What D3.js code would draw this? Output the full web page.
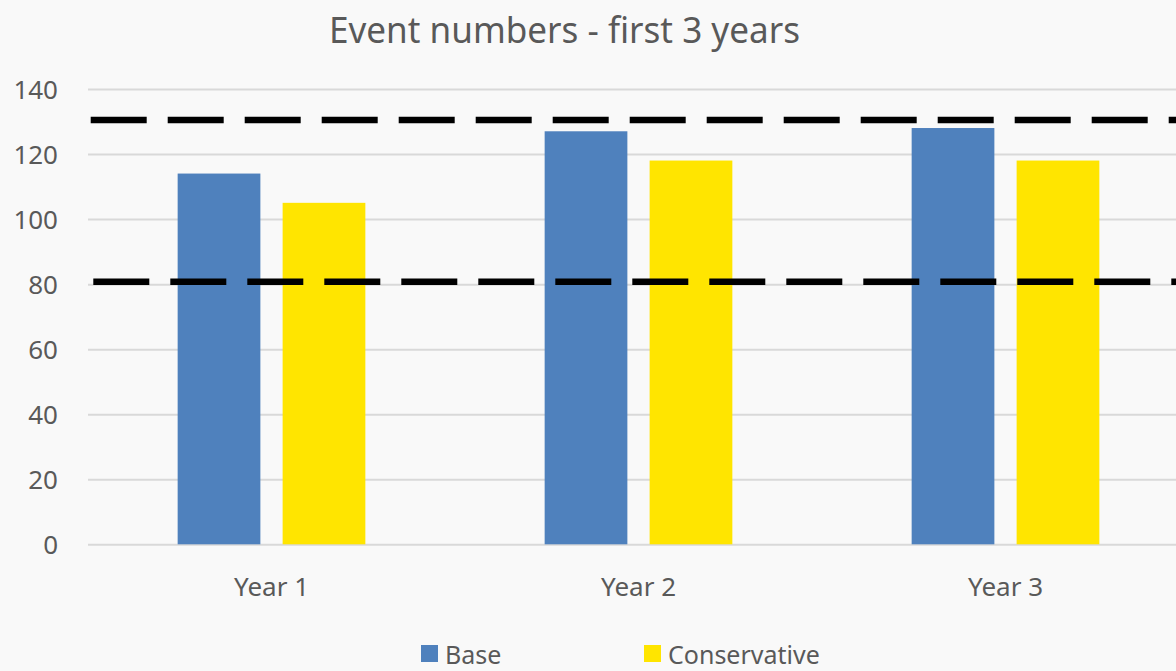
<!DOCTYPE html>
<html>
<head>
<meta charset="utf-8">
<script src="https://cdn.jsdelivr.net/npm/d3@7"></script>
<style>
  body { margin: 0; background: #f9f9f9; overflow: hidden; }
  text { font-family: "Noto Sans", "Open Sans", sans-serif; fill: #595959; }
</style>
</head>
<body>
<script>
// data
const years = ['Year 1', 'Year 2', 'Year 3']
const seriesNames = ['Base', 'Conservative']
const baseValues = [114, 127, 128]
const conservativeValues = [105, 118, 118]
const thresholds = [130.5, 80.7]
const yTicks = [0, 20, 40, 60, 80, 100, 120, 140]

const colors = { Base: '#4f81bd', Conservative: '#ffe500' }

let width = 1176,
    height = 671

let svg = d3.select('body').append('svg')
  .attr('width', width)
  .attr('height', height)

svg.append('rect')
  .attr('width', width)
  .attr('height', height)
  .attr('fill', '#f9f9f9')

// plot area (right edge runs past the window, as in the reference)
const plotLeft = 88, plotRight = 1189, plotTop = 89, plotBottom = 544.3

const x0 = d3.scaleBand().domain(years).range([plotLeft, plotRight])
const x1 = d3.scaleBand().domain(seriesNames)
  .range([0, x0.bandwidth()])
  .paddingInner(0.212)
  .paddingOuter(0.854)
const y = d3.scaleLinear().domain([0, 140]).range([plotBottom, plotTop])

// gridlines + y labels
let yAxis = svg.append('g')
  .attr('transform', 'translate(' + plotLeft + ',0)')
  .call(d3.axisLeft(y).tickValues(yTicks).tickSize(-(width - plotLeft)).tickPadding(30))
yAxis.select('.domain').remove()
yAxis.selectAll('.tick line')
  .attr('stroke', '#d9d9d9')
  .attr('stroke-width', 2)
yAxis.selectAll('.tick text')
  .style('font-size', '26px')
  .attr('fill', '#595959')
  .attr('dy', '0.36em')

// bars
const rows = years.map((yr, i) => ({
  year: yr,
  values: [
    { key: 'Base', value: baseValues[i] },
    { key: 'Conservative', value: conservativeValues[i] }
  ]
}))

let groups = svg.append('g').selectAll('g')
  .data(rows)
  .join('g')
  .attr('transform', d => 'translate(' + x0(d.year) + ',0)')

groups.selectAll('rect')
  .data(d => d.values)
  .join('rect')
  .attr('x', d => x1(d.key))
  .attr('width', x1.bandwidth())
  .attr('y', d => y(d.value))
  .attr('height', d => y(0) - y(d.value))
  .attr('fill', d => colors[d.key])

// dashed threshold lines
const dashOffsets = [74.3, 71.7]
svg.append('g').selectAll('line')
  .data(thresholds)
  .join('line')
  .attr('x1', plotLeft)
  .attr('x2', width)
  .attr('y1', d => y(d))
  .attr('y2', d => y(d))
  .attr('stroke', '#000')
  .attr('stroke-width', 6.5)
  .attr('stroke-dasharray', '56 21')
  .attr('stroke-dashoffset', (d, i) => dashOffsets[i])

// x labels
let xAxis = svg.append('g')
  .attr('transform', 'translate(0,' + plotBottom + ')')
  .call(d3.axisBottom(x0).tickSize(0).tickPadding(33))
xAxis.select('.domain').remove()
xAxis.selectAll('.tick text')
  .style('font-size', '26px')
  .attr('fill', '#595959')

// title
svg.append('text')
  .attr('x', 564.5)
  .attr('y', 43)
  .attr('text-anchor', 'middle')
  .attr('textLength', 471)
  .attr('lengthAdjust', 'spacingAndGlyphs')
  .style('font-size', '37px')
  .text('Event numbers - first 3 years')

// legend
const legendX = [421, 644]
let legend = svg.append('g').selectAll('g')
  .data(seriesNames)
  .join('g')
  .attr('transform', (d, i) => 'translate(' + legendX[i] + ',645)')
legend.append('rect')
  .attr('width', 17)
  .attr('height', 17)
  .attr('fill', d => colors[d])
legend.append('text')
  .attr('x', 24)
  .attr('y', 18.5)
  .style('font-size', '25px')
  .text(d => d)
</script>
</body>
</html>
